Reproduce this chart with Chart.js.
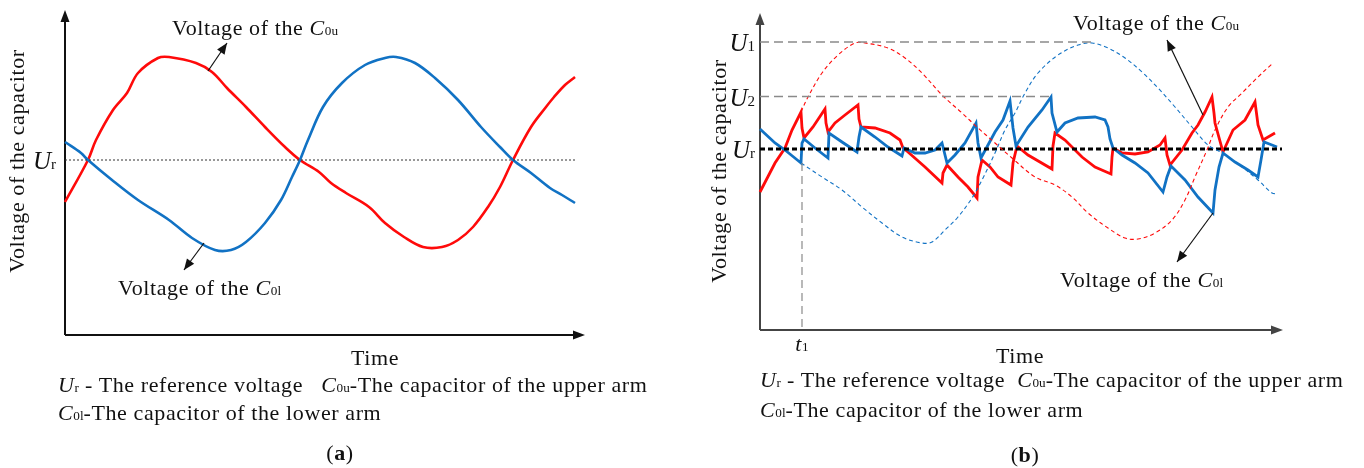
<!DOCTYPE html>
<html>
<head>
<meta charset="utf-8">
<script src="https://cdn.jsdelivr.net/npm/chart.js@4.4.0/dist/chart.umd.min.js"></script>
<style>
  body { margin: 0; background: #fff; }
  #wrap { position: relative; width: 1364px; height: 468px; overflow: hidden; }
  canvas { position: absolute; top: 0; }
  .t { position: absolute; font-family: "Liberation Serif", serif; font-size: 22px; letter-spacing: 0.6px; line-height: 1; color: #111; white-space: nowrap; }
  .t i { font-style: italic; }
  .s { font-size: 0.6em; letter-spacing: 0; }
  .big { font-size: 25px; letter-spacing: 0; }
  .ylab { transform: translate(-50%, -50%) rotate(-90deg); }
  .c { transform: translateX(-50%); }
</style>
</head>
<body>
<div id="wrap">
  <canvas id="chartA" width="682" height="468" style="left:0"></canvas>
  <canvas id="chartB" width="682" height="468" style="left:682px"></canvas>

  <!-- panel (a) texts -->
  <div class="t" style="left:172px;top:17px">Voltage of the <i>C</i><span class="s">0u</span></div>
  <div class="t" style="left:118px;top:277px">Voltage of the <i>C</i><span class="s">0l</span></div>
  <div class="t big" style="right:1308px;top:148px"><i>U</i><span class="s">r</span></div>
  <div class="t ylab" style="left:17px;top:161px">Voltage of the capacitor</div>
  <div class="t c" style="left:375px;top:347px">Time</div>
  <div class="t" style="left:58px;top:374px"><i>U</i><span class="s">r</span> - The reference voltage&nbsp;&nbsp; <i>C</i><span class="s">0u</span>-The capacitor of the upper arm</div>
  <div class="t" style="left:58px;top:402px"><i>C</i><span class="s">0l</span>-The capacitor of the lower arm</div>
  <div class="t c" style="left:340px;top:442px">(<b>a</b>)</div>

  <!-- panel (b) texts -->
  <div class="t" style="left:1073px;top:12px">Voltage of the <i>C</i><span class="s">0u</span></div>
  <div class="t" style="left:1060px;top:269px">Voltage of the <i>C</i><span class="s">0l</span></div>
  <div class="t big" style="right:609px;top:30px"><i>U</i><span class="s">1</span></div>
  <div class="t big" style="right:609px;top:85px"><i>U</i><span class="s">2</span></div>
  <div class="t big" style="right:609px;top:137px"><i>U</i><span class="s">r</span></div>
  <div class="t ylab" style="left:719px;top:171px">Voltage of the capacitor</div>
  <div class="t c" style="left:802px;top:333px"><i>t</i><span class="s">1</span></div>
  <div class="t c" style="left:1020px;top:345px">Time</div>
  <div class="t" style="left:760px;top:369px"><i>U</i><span class="s">r</span> - The reference voltage&nbsp; <i>C</i><span class="s">0u</span>-The capacitor of the upper arm</div>
  <div class="t" style="left:760px;top:399px"><i>C</i><span class="s">0l</span>-The capacitor of the lower arm</div>
  <div class="t c" style="left:1025px;top:444px">(<b>b</b>)</div>
</div>

<script>
// ---- panel (a): [time, voltage], voltage measured from Ur
const upperA = [[0,-4.2],[23,0],[31,2.0],[48,5.0],[62,6.7],[73,8.7],[93,10.2],[104,10.3],[131,9.7],[147,8.8],
  [162,7.2],[181,5.3],[200,3.3],[220,1.3],[235,0],[254,-1.2],[266,-2.3],[281,-3.3],[304,-4.7],[320,-6.3],
  [339,-7.7],[358,-8.7],[377,-8.7],[393,-8.0],[408,-6.7],[423,-4.7],[435,-2.7],[448,0],[466,3.3],[481,5.3],
  [489,6.3],[500,7.5],[510,8.3]];
const lowerA = [[0,1.8],[16,0.7],[23,0],[47,-2.0],[73,-4.0],[104,-6.0],[127,-7.8],[150,-9.0],[166,-9.0],[181,-8.2],
  [200,-6.3],[216,-4.0],[227,-1.7],[235,0],[243,2.0],[258,5.3],[277,7.7],[300,9.5],[320,10.2],[331,10.3],
  [350,9.7],[370,8.2],[393,6.0],[416,3.3],[435,1.3],[448,0],[466,-1.3],[485,-2.8],[497,-3.5],[510,-4.3]];
const refA = [[0,0],[510,0]];

// ---- panel (b)
const upperB = [[0,-4.3],[15,-1.4],[25,0.1],[32,1.9],[41,3.7],[42,2.1],[44,1.1],[53,2.2],[65,4.0],[66,2.6],[68,1.7],
  [75,2.6],[85,3.4],[98,4.4],[99,3.0],[101,2.2],[115,2.1],[130,1.6],[140,0.9],[143,0.1],[148,-0.3],[165,-1.8],
  [182,-3.4],[183,-2.4],[187,-1.6],[198,-2.8],[208,-3.8],[217,-4.9],[218,-2.8],[222,-1.1],[230,-1.8],[238,-2.8],
  [251,-3.6],[253,-1.4],[257,0.3],[268,-0.6],[292,-2.0],[293,0.3],[295,1.6],[305,0.9],[322,-0.8],[335,-1.8],
  [351,-2.5],[352,-0.8],[353,0.1],[362,-0.4],[375,-0.5],[388,-0.3],[400,0.4],[405,1.1],[407,-0.6],[410,-1.6],
  [422,-0.1],[432,1.6],[438,2.4],[445,3.7],[452,5.2],[454,3.6],[455,2.6],[463,-0.3],[473,1.9],[485,2.9],
  [495,4.7],[497,3.2],[498,2.4],[503,0.9],[515,1.6]];
const lowerB = [[0,2.0],[15,0.6],[25,-0.1],[41,-1.4],[42,0.6],[44,1.0],[55,0.1],[68,-0.9],[69,1.6],[82,0.7],
  [97,-0.3],[99,1.2],[101,2.2],[115,1.2],[128,0.2],[142,-0.7],[144,0.1],[155,-0.4],[165,-0.4],[175,-0.1],
  [182,0.6],[187,-1.4],[195,-0.6],[205,0.6],[216,2.6],[218,0.6],[221,-0.9],[228,0.4],[235,1.7],[243,2.9],
  [250,4.8],[253,2.1],[256,0.3],[268,2.2],[282,3.9],[291,5.2],[292,3.6],[297,1.7],[305,2.6],[318,3.1],
  [335,3.2],[345,2.9],[348,2.2],[350,1.0],[353,0.1],[362,-0.6],[375,-1.4],[388,-2.4],[403,-4.3],[407,-2.8],
  [411,-1.7],[425,-3.1],[438,-4.8],[453,-6.4],[455,-4.1],[459,-1.8],[463,-0.4],[475,-1.3],[488,-2.1],
  [498,-2.8],[501,-1.1],[504,0.7],[512,0.4],[517,0.2]];
const upperEnvB = [[41,3.7],[48,5.2],[62,7.6],[78,9.4],[95,10.6],[105,10.6],[128,10.1],[145,9.1],[162,7.6],
  [182,5.4],[202,3.6],[217,2.2],[235,0.6],[252,-0.9],[275,-2.8],[295,-3.6],[312,-4.8],[328,-6.4],[348,-7.9],
  [365,-8.9],[378,-9.0],[395,-8.4],[412,-7.1],[425,-5.1],[435,-2.8],[447,-0.1],[455,1.9],[468,4.2],[482,5.6],
  [498,7.2],[513,8.6]];
const lowerEnvB = [[41,-1.4],[62,-2.8],[82,-4.1],[102,-5.8],[122,-7.4],[142,-8.8],[162,-9.4],[172,-9.3],
  [185,-8.1],[198,-6.8],[212,-4.9],[222,-3.1],[235,-0.4],[245,1.9],[255,3.6],[265,5.6],[278,7.6],[298,9.4],
  [318,10.4],[332,10.6],[348,10.1],[365,9.1],[382,7.7],[398,6.1],[415,4.2],[432,2.2],[448,0.4],[462,-0.4],
  [482,-1.8],[498,-3.1],[512,-4.4],[517,-4.5]];
const U1 = 10.7, U2 = 5.25, t1 = 42;
const refB = [[0,0],[522,0]];
const u1Line = [[0,U1],[331,U1]];
const u2Line = [[0,U2],[293,U2]];
const t1Line = [[t1,-1.4],[t1,-18.1]];

// annotation arrows: [from, tip] in data units
const arrowsA = [[[143,8.9],[162,11.7]], [[139,-8.3],[119,-11.0]]];
const arrowsB = [[[443,3.4],[407,10.9]], [[453,-6.4],[417,-11.3]]];

const RED = '#ff0a0a', BLUE = '#1172c4';
const xy = arr => arr.map(p => ({ x: p[0], y: p[1] }));

function head(ctx, x0, y0, x1, y1, len, wid) {
  const a = Math.atan2(y1 - y0, x1 - x0);
  ctx.beginPath();
  ctx.moveTo(x1, y1);
  ctx.lineTo(x1 - len * Math.cos(a) + wid * Math.sin(a), y1 - len * Math.sin(a) - wid * Math.cos(a));
  ctx.lineTo(x1 - len * Math.cos(a) - wid * Math.sin(a), y1 - len * Math.sin(a) + wid * Math.cos(a));
  ctx.closePath();
  ctx.fill();
}

// axes with arrowheads + annotation arrows
function axesPlugin(axisColor, arrows, xTip) {
  return {
    id: 'axes',
    beforeDatasetsDraw(chart) {
      const { ctx, chartArea: ca } = chart;
      ctx.save();
      ctx.strokeStyle = axisColor;
      ctx.fillStyle = axisColor;
      ctx.lineWidth = 2;
      ctx.beginPath();
      ctx.moveTo(ca.left, ca.bottom);
      ctx.lineTo(ca.left, ca.top + 4);
      ctx.moveTo(ca.left, ca.bottom);
      ctx.lineTo(ca.right + xTip - 4, ca.bottom);
      ctx.stroke();
      head(ctx, ca.left, ca.bottom, ca.left, ca.top - 2, 12, 4.5);
      head(ctx, ca.left, ca.bottom, ca.right + xTip, ca.bottom, 12, 4.5);
      ctx.restore();
    },
    afterDatasetsDraw(chart) {
      const { ctx, scales: { x, y } } = chart;
      ctx.save();
      ctx.strokeStyle = '#111';
      ctx.fillStyle = '#111';
      ctx.lineWidth = 1.2;
      arrows.forEach(([f, t]) => {
        const x0 = x.getPixelForValue(f[0]), y0 = y.getPixelForValue(f[1]);
        const x1 = x.getPixelForValue(t[0]), y1 = y.getPixelForValue(t[1]);
        ctx.beginPath();
        ctx.moveTo(x0, y0);
        ctx.lineTo(x1, y1);
        ctx.stroke();
        head(ctx, x0, y0, x1, y1, 11, 4.5);
      });
      ctx.restore();
    }
  };
}

function makeChart(id, datasets, scales, padding, plugin) {
  return new Chart(document.getElementById(id), {
    type: 'line',
    data: { datasets },
    options: {
      responsive: false,
      animation: false,
      events: [],
      layout: { padding },
      plugins: { legend: { display: false }, tooltip: { enabled: false } },
      scales: {
        x: { type: 'linear', display: false, min: scales.x[0], max: scales.x[1] },
        y: { type: 'linear', display: false, min: scales.y[0], max: scales.y[1] }
      }
    },
    plugins: [plugin]
  });
}

const line = (data, color, width, opts = {}) => Object.assign({
  data: xy(data), borderColor: color, borderWidth: width, pointRadius: 0,
  fill: false, tension: 0, clip: false
}, opts);

makeChart('chartA', [
  line(refA, '#333', 1, { borderDash: [2, 2] }),
  line(lowerA, BLUE, 2.6, { tension: 0.35 }),
  line(upperA, RED, 2.6, { tension: 0.35 })
], { x: [0, 510], y: [-17.5, 14.8] }, { left: 65, right: 107, top: 12, bottom: 133 },
  axesPlugin('#111', arrowsA, 10));

makeChart('chartB', [
  line(u1Line, '#8a8a8a', 1.5, { borderDash: [9, 5] }),
  line(u2Line, '#8a8a8a', 1.5, { borderDash: [9, 5] }),
  line(t1Line, '#8a8a8a', 1.2, { borderDash: [8, 5] }),
  line(upperEnvB, RED, 1.1, { borderDash: [4, 3], tension: 0.35 }),
  line(lowerEnvB, BLUE, 1.1, { borderDash: [4, 3], tension: 0.35 }),
  line(refB, '#000', 3, { borderDash: [5, 3] }),
  line(lowerB, BLUE, 2.8),
  line(upperB, RED, 2.8)
], { x: [0, 517], y: [-18.1, 13.4] }, { left: 78, right: 87, top: 15, bottom: 138 },
  axesPlugin('#444', arrowsB, 6));
</script>
</body>
</html>
